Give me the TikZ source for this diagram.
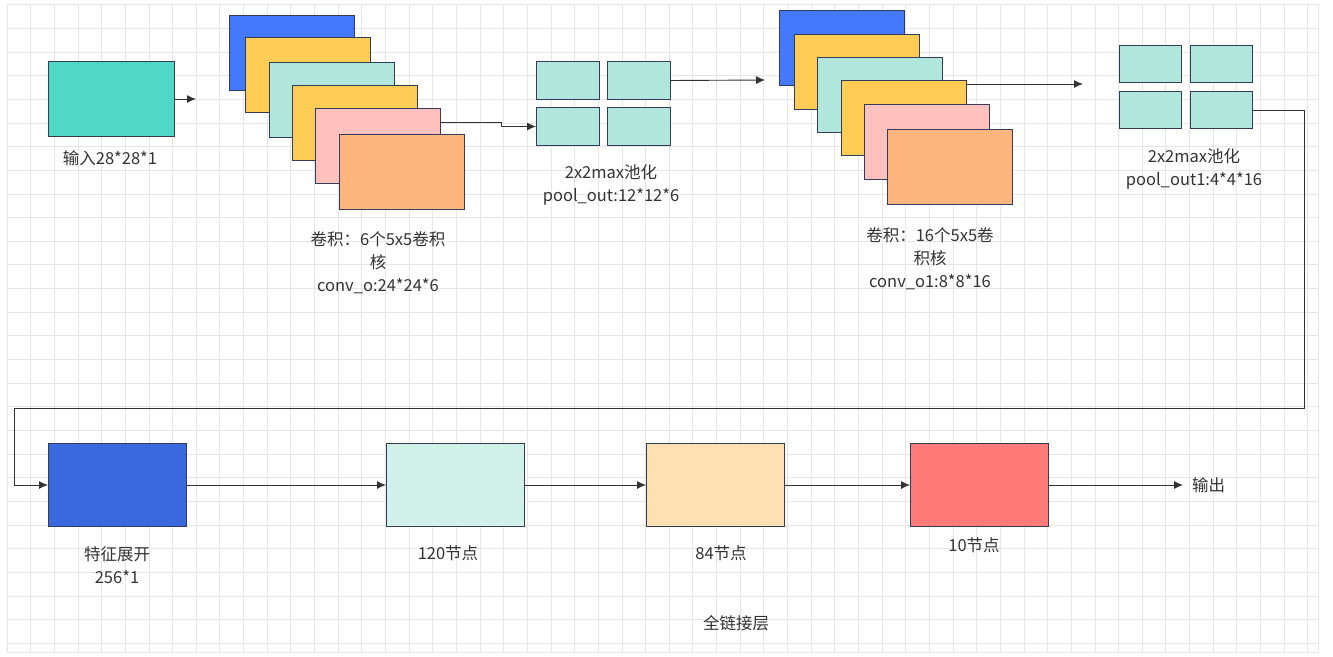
\documentclass[tikz,border=0pt]{standalone}
\usepackage{fontspec}
\setmainfont{Noto Sans CJK SC}
\usetikzlibrary{arrows.meta}
\definecolor{gridc}{HTML}{E6E6E6}
\definecolor{edge}{HTML}{333C5A}
\definecolor{txt}{HTML}{333333}
\definecolor{cin}{HTML}{4FD8C5}
\definecolor{cblue}{HTML}{4479FF}
\definecolor{cyel}{HTML}{FFCC55}
\definecolor{cteal}{HTML}{B1E6DD}
\definecolor{cpink}{HTML}{FFC0BE}
\definecolor{corg}{HTML}{FFB57E}
\definecolor{fblue}{HTML}{3A68DD}
\definecolor{fteal}{HTML}{D1F0EA}
\definecolor{fpeach}{HTML}{FEE0B3}
\definecolor{fred}{HTML}{FF7B77}
\tikzset{
  box/.style={draw=edge, line width=1pt, inner sep=0pt, anchor=north west},
  big/.style={box, minimum width=125pt, minimum height=75pt},
  pool/.style={box, minimum width=63pt, minimum height=38pt, fill=cteal},
  fc/.style={box, minimum width=138pt, minimum height=83pt},
  lbl/.style={text=txt, align=center, font=\fontsize{16.5}{23}\selectfont, inner sep=0pt},
  conn/.style={draw=txt, line width=0.9pt, -{Latex[length=9pt,width=8pt]}},
  gridline/.style={draw=gridc, line width=0.8pt}
}
\begin{document}
\begin{tikzpicture}[x=1pt,y=-1pt]
\useasboundingbox (0,0) rectangle (1333,656);
\fill[white] (0,0) rectangle (1333,656);
% grid
\foreach \i in {0,...,55} {\draw[gridline] ({7+23.65*\i},4.7) -- ({7+23.65*\i},652);}
\foreach \j in {0,...,27} {\draw[gridline] (7,{4.7+23.65*\j}) -- (1318,{4.7+23.65*\j});}
\draw[gridline] (1318,4.7) -- (1318,652);
\draw[gridline] (7,652) -- (1318,652);

% input
\node[big, minimum width=126pt, fill=cin] (in) at (48,61) {};
\node[lbl] (inl) at (110,158) {输入28*28*1};
\coordinate (a1) at (196,99);

% conv stack 1
\node[big, fill=cblue] (c1a) at (229,15) {};
\node[big, fill=cyel]  (c1b) at (245,37) {};
\node[big, fill=cteal] (c1c) at (269,62) {};
\node[big, fill=cyel]  (c1d) at (292,85) {};
\node[big, fill=cpink] (c1e) at (315,108) {};
\node[big, fill=corg]  (c1f) at (339,134) {};
\node[lbl] (c1l) at (378,263) {卷积：6个5x5卷积\\核\\conv\_o:24*24*6};

% pool 1
\node[pool] (p1a) at (536,61) {};
\node[pool] (p1b) at (607,61) {};
\node[pool] (p1c) at (536,107) {};
\node[pool] (p1d) at (607,107) {};
\node[lbl] (p1l) at (611,185) {2x2max池化\\pool\_out:12*12*6};
\coordinate (a2) at (765,80);

% conv stack 2
\node[big, fill=cblue] (c2a) at (779,10) {};
\node[big, fill=cyel]  (c2b) at (794,34) {};
\node[big, fill=cteal] (c2c) at (817,57) {};
\node[big, fill=cyel]  (c2d) at (841,80) {};
\node[big, fill=cpink] (c2e) at (864,104) {};
\node[big, fill=corg]  (c2f) at (887,129) {};
\node[lbl] (c2l) at (930,259) {卷积：16个5x5卷\\积核\\conv\_o1:8*8*16};
\coordinate (a3) at (1083,84);

% pool 2
\node[pool, minimum width=62pt, minimum height=37pt] (p2a) at (1119,45) {};
\node[pool, minimum width=62pt, minimum height=37pt] (p2b) at (1190,45) {};
\node[pool, minimum width=62pt, minimum height=37pt] (p2c) at (1119,91) {};
\node[pool, minimum width=62pt, minimum height=37pt] (p2d) at (1190,91) {};
\node[lbl] (p2l) at (1194,169) {2x2max池化\\pool\_out1:4*4*16};

% fully connected
\node[fc, fill=fblue]  (f1) at (48,443) {};
\node[fc, fill=fteal]  (f2) at (386,443) {};
\node[fc, fill=fpeach] (f3) at (646,443) {};
\node[fc, fill=fred]   (f4) at (910,443) {};
\node[lbl] (f1l) at (117,565) {特征展开\\256*1};
\node[lbl] (f2l) at (448,553) {120节点};
\node[lbl] (f3l) at (721,553) {84节点};
\node[lbl] (f4l) at (974,545) {10节点};
\node[lbl] (fcl) at (736,623) {全链接层};
\coordinate (out) at (1183,485);
\node[lbl, anchor=west] (outl) at (1192,485) {输出};

% routing
\coordinate (r1) at (1304,408);
\coordinate (l1) at (14,408);

% connectors
\draw[conn] (in.east) -- (a1);
\draw[conn] ([yshift=-14pt]c1e.north east) -- ++(60,0) |- (p1c.west);
\draw[conn] (p1b.east) -- (a2);
\draw[conn] ([yshift=-4pt]c2d.north east) -- (a3);
\draw[conn] (p2d.east) -| (r1) -- (l1) |- (f1.west);
\draw[conn] (f1.east) -- (f2.west);
\draw[conn] (f2.east) -- (f3.west);
\draw[conn] (f3.east) -- (f4.west);
\draw[conn] (f4.east) -- (out);
\end{tikzpicture}
\end{document}
